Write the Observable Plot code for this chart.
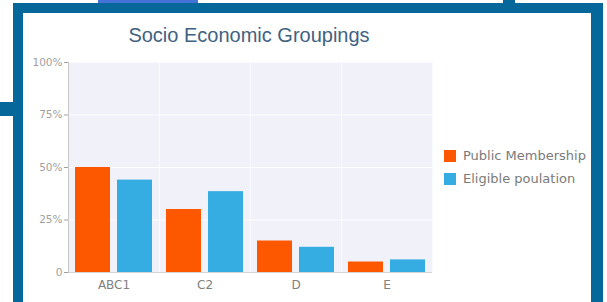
<!DOCTYPE html>
<html><head><meta charset="utf-8">
<script src="https://cdn.jsdelivr.net/npm/d3@7"></script>
<script src="https://cdn.jsdelivr.net/npm/@observablehq/plot@0.6"></script>
<style>
html,body{margin:0;padding:0;background:#fff;width:607px;height:302px;overflow:hidden;font-family:"Liberation Sans",Arial,sans-serif;}
.abs{position:absolute;}
#frame{left:13px;top:3px;width:590px;height:310px;box-sizing:border-box;border:10px solid #05679a;border-right-width:12px;}
#title{left:0;top:25px;width:498px;text-align:center;font-size:20px;line-height:20px;color:#3f6282;white-space:nowrap;}
#chart{left:0;top:50px;}
#legend{left:444px;top:144px;font-family:"DejaVu Sans",sans-serif;font-size:13px;color:#7a7a7a;}
.item{display:flex;align-items:center;height:23px;white-space:nowrap;}
.sw{width:12px;height:12px;margin-right:7px;}
#topbar{left:98px;top:0;width:100px;height:3px;background:#4473d8;}
</style>
</head><body>
<div id="topbar" class="abs"></div>
<div class="abs" style="left:503px;top:0;width:12px;height:3px;background:#05679a"></div>
<div class="abs" style="left:0;top:102px;width:13px;height:14px;background:#05679a"></div>
<div id="frame" class="abs"></div>
<div id="title" class="abs">Socio Economic Groupings</div>
<div id="chart" class="abs"></div>
<div id="legend" class="abs"></div>
<script>
const categories = ["ABC1", "C2", "D", "E"];
const series = ["Public Membership", "Eligible poulation"];
const publicMembership = [50, 30, 15, 5];
const eligiblePopulation = [44, 38.5, 12, 6];
const colors = ["#fd5800", "#35ade3"];
const yTicks = [0, 25, 50, 75, 100];

const data = categories.flatMap((c, i) => [
  {cat: c, s: series[0], v: publicMembership[i]},
  {cat: c, s: series[1], v: eligiblePopulation[i]}
]);

const chart = Plot.plot({
  width: 440, height: 250,
  marginLeft: 67, marginRight: 8, marginTop: 12, marginBottom: 28,
  style: {fontFamily: "'DejaVu Sans', sans-serif", background: "transparent", overflow: "visible"},
  fx: {domain: categories, padding: 0, axis: null, label: null},
  x: {domain: series, paddingInner: 0.163, paddingOuter: 0.14, axis: null},
  y: {domain: [0, 100], axis: null},
  color: {domain: series, range: colors},
  marks: [
    Plot.frame({fill: "#f0f1f9"}),
    Plot.gridY(yTicks, {stroke: "#ffffff", strokeOpacity: 0.9}),
    Plot.frame({stroke: "#fafbff"}),
    Plot.barY(data, {fx: "cat", x: "s", y: "v", fill: "s"}),
    Plot.ruleY([0], {stroke: "#d4d4d4"}),
    Plot.frame({anchor: "left", stroke: "#c8c8c8", facetAnchor: "left"}),
    Plot.axisY(yTicks, {tickSize: 4, tickPadding: 2, tickFormat: d => d === 0 ? "0" : d + "%", color: "#a0a0a0", fontSize: 10.5, label: null}),
    Plot.axisFx({anchor: "bottom", tickSize: 0, tickPadding: 8, fontSize: 12, color: "#808080", label: null})
  ]
});
document.getElementById("chart").appendChild(chart);

const legend = document.getElementById("legend");
series.forEach((s, i) => {
  const it = document.createElement("div");
  it.className = "item";
  const sw = document.createElement("div");
  sw.className = "sw";
  sw.style.background = colors[i];
  const t = document.createElement("span");
  t.textContent = s;
  it.appendChild(sw); it.appendChild(t);
  legend.appendChild(it);
});
</script>
</body></html>
